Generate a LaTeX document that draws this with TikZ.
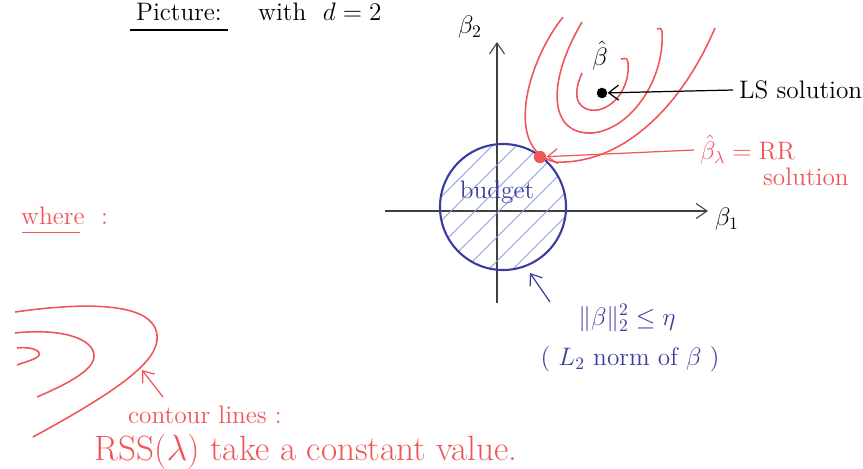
\documentclass[tikz,border=0pt]{standalone}
\usepackage{amsmath,amssymb}
\usepackage{xcolor,tikz}
\usetikzlibrary{arrows.meta,positioning,calc}
\definecolor{penred}{HTML}{F0555A}
\definecolor{penblue}{HTML}{3C3C9E}
\definecolor{hatchblue}{HTML}{8A9ADC}

\begin{document}
\begin{tikzpicture}[x=0.02cm,y=-0.02cm,font=\Large,
  axis/.style={draw=black!75,line width=0.6pt,-{Straight Barb[length=2.2mm,width=3mm]}},
  contour/.style={draw=penred,line width=0.9pt},
  pointer/.style={line width=0.7pt,-{Straight Barb[length=2mm,width=3mm]}},
  redtext/.style={text=penred},
  bluetext/.style={text=penblue}]
\useasboundingbox (0,0) rectangle (863,468);

% title
\node[anchor=base west] (pic) at (130,20) {Picture:};
\node[anchor=base west] (with) at (252,20) {with \ $d = 2$};
\draw[line width=0.7pt] ([yshift=-2pt]pic.south west) -- ([yshift=-2pt]pic.south east);

% axes
\coordinate (xa) at (385,211);
\coordinate (xb) at (708,211);
\coordinate (ya) at (497,303);
\coordinate (yb) at (497,42);
\draw[axis] (xa) -- (xb);
\draw[axis] (ya) -- (yb);
\node (b1) at (727,219) {$\beta_1$};
\node (b2) at (470,27) {$\beta_2$};

% budget disc
\coordinate (c0) at (503,207);
\begin{scope}
\clip (c0) circle (63);
\foreach \k in {-6,...,6}
  \draw[hatchblue,line width=0.45pt] ($(c0)+(\k*24-80,80)$) -- ($(c0)+(\k*24+80,-80)$);
\end{scope}
\draw[penblue,line width=1.2pt] (c0) circle (63);
\node[bluetext] (budget) at (497,192) {budget};

% contours round the LS solution
\draw[contour] (563,17) .. controls (525,65) and (505,150) .. (555,162)
  .. controls (620,165) and (680,110) .. (715,28);
\draw[contour] (582,22) .. controls (545,85) and (550,135) .. (592,133)
  .. controls (630,130) and (665,80) .. (662,32) .. controls (661,28) .. (657,29);
\draw[contour] (582,73) .. controls (570,100) and (580,112) .. (598,110)
  .. controls (620,105) and (630,80) .. (628,63) .. controls (627,58) .. (621,59);

% solutions
\node[circle,fill=black,inner sep=0pt,minimum size=6pt] (lsdot) at (602,93) {};
\node (bhat) at (600,56) {$\hat{\beta}$};
\node[anchor=west] (ls) at (733,90) {LS solution};
\draw[pointer] (ls.west) -- (lsdot);
\node[circle,fill=penred,inner sep=0pt,minimum size=7pt] (rrdot) at (540,157) {};
\node[redtext,anchor=west] (rr) at (694,150) {$\hat{\beta}_\lambda = \mathrm{RR}$};
\node[redtext,anchor=west] (rrsol) at (757,177) {solution};
\draw[pointer,penred] (rr.west) -- (rrdot);

% constraint
\coordinate (normtail) at (550,302);
\coordinate (circpt) at (530,273);
\draw[pointer,penblue] (normtail) -- (circpt);
\node[bluetext] (norm) at (627,318) {$\|\beta\|_2^2 \le \eta$};
\node[bluetext] (l2) at (630,359) {( $L_2$ norm of $\beta$ )};

% where
\node[redtext,anchor=base west] (where) at (15,224) {where};
\node[redtext,anchor=base west] (colon) at (95,224) {:};
\draw[penred,line width=0.8pt] ([xshift=4pt,yshift=-1pt]where.south west) -- ([xshift=-6pt,yshift=-1pt]where.south east);

% sketch of contour lines
\draw[contour] (15,312) .. controls (100,300) and (160,305) .. (157,340)
  .. controls (155,365) and (110,395) .. (33,437);
\draw[contour] (15,333) .. controls (60,328) and (95,338) .. (94,357)
  .. controls (93,372) and (60,387) .. (37,397);
\draw[contour] (17,348) .. controls (35,346) and (45,353) .. (36,358)
  .. controls (30,361) and (22,363) .. (17,365);
\coordinate (cltail) at (163,397);
\coordinate (clhead) at (142,370);
\draw[pointer,penred] (cltail) -- (clhead);
\node[redtext] (cl) at (205,415) {contour lines :};
\node[redtext,font=\fontsize{20}{24}\selectfont] (rss) at (306,452) {RSS($\lambda$) take a constant value.};
\end{tikzpicture}
\end{document}
